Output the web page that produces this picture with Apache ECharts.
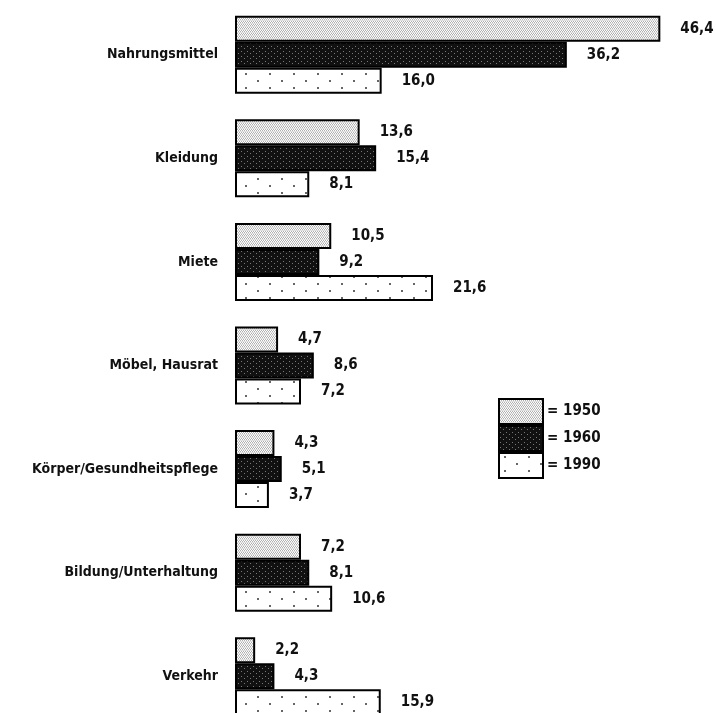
<!DOCTYPE html>
<html><head><meta charset="utf-8">
<script src="https://cdn.jsdelivr.net/npm/echarts@6/dist/echarts.min.js"></script>
<style>html,body{margin:0;padding:0;background:#fff;overflow:hidden}#c{width:716px;height:730px}</style>
</head><body><div id="c"></div>
<script>
const categories = ['Nahrungsmittel','Kleidung','Miete','Möbel, Hausrat','Körper/Gesundheitspflege','Bildung/Unterhaltung','Verkehr'];
const seriesNames = ['1950','1960','1990'];
const v1950 = [46.4,13.6,10.5,4.7,4.3,7.2,2.2];
const v1960 = [36.2,15.4,9.2,8.6,5.1,8.1,4.3];
const v1990 = [16.0,8.1,21.6,7.2,3.7,10.6,15.9];

function tile(w,h,draw){const c=document.createElement('canvas');c.width=w;c.height=h;const g=c.getContext('2d');draw(g);return c;}
const pat1950 = tile(4,3,g=>{g.fillStyle='#b0b0b0';g.fillRect(0,0,4,3);g.fillStyle='#ffffff';g.fillRect(0,0,1,1);g.fillRect(2,0,1,1);g.fillRect(1,1,1,1);g.fillRect(3,1,1,1);g.fillStyle='#e0e0e0';g.fillRect(0,2,4,1);});
const pat1960 = tile(6,5,g=>{g.fillStyle='#111';g.fillRect(0,0,6,5);g.fillStyle='#777';g.fillRect(1,1,1,1);g.fillRect(4,3,1,1);});
const pat1990 = tile(24,14,g=>{g.fillStyle='#fff';g.fillRect(0,0,24,14);g.fillStyle='#666';g.fillRect(5,3,2,2);g.fillRect(17,10,2,2);});
const pats = [pat1950,pat1960,pat1990];
const vals = [v1950,v1960,v1990];
const FONT = "'DejaVu Sans Condensed',sans-serif";

const chart = echarts.init(document.getElementById('c'));
const fmt = p => String(p.value.toFixed(1)).replace('.',',');
chart.setOption({
  animation:false,
  grid:{left:235,right:41,top:3,bottom:2,containLabel:false,outerBoundsMode:'none'},
  xAxis:{type:'value',min:0,max:48,show:false},
  yAxis:{type:'category',data:categories,inverse:true,
    axisLine:{show:false},axisTick:{show:false},
    axisLabel:{margin:17,fontFamily:FONT,fontWeight:'bold',fontSize:14,color:'#111'}},
  legend:{orient:'vertical',left:498,top:398,padding:0,itemWidth:44,itemHeight:25,itemGap:0,icon:'rect',
    data:seriesNames,formatter:n=>'= '+n,
    textStyle:{fontFamily:FONT,fontWeight:'bold',fontSize:15,lineHeight:25,color:'#111',padding:[0,0,0,-1]},
    itemStyle:{borderColor:'#000',borderWidth:2}},
  series: seriesNames.map((n,i)=>({
    name:n,type:'bar',data:vals[i],barWidth:26,barGap:'0%',
    itemStyle:{color:{image:pats[i],repeat:'repeat'},borderColor:'#000',borderWidth:2},
    label:{show:true,position:'right',distance:20,formatter:fmt,
      fontFamily:FONT,fontWeight:'bold',fontSize:15,color:'#111'}
  }))
});
</script></body></html>
